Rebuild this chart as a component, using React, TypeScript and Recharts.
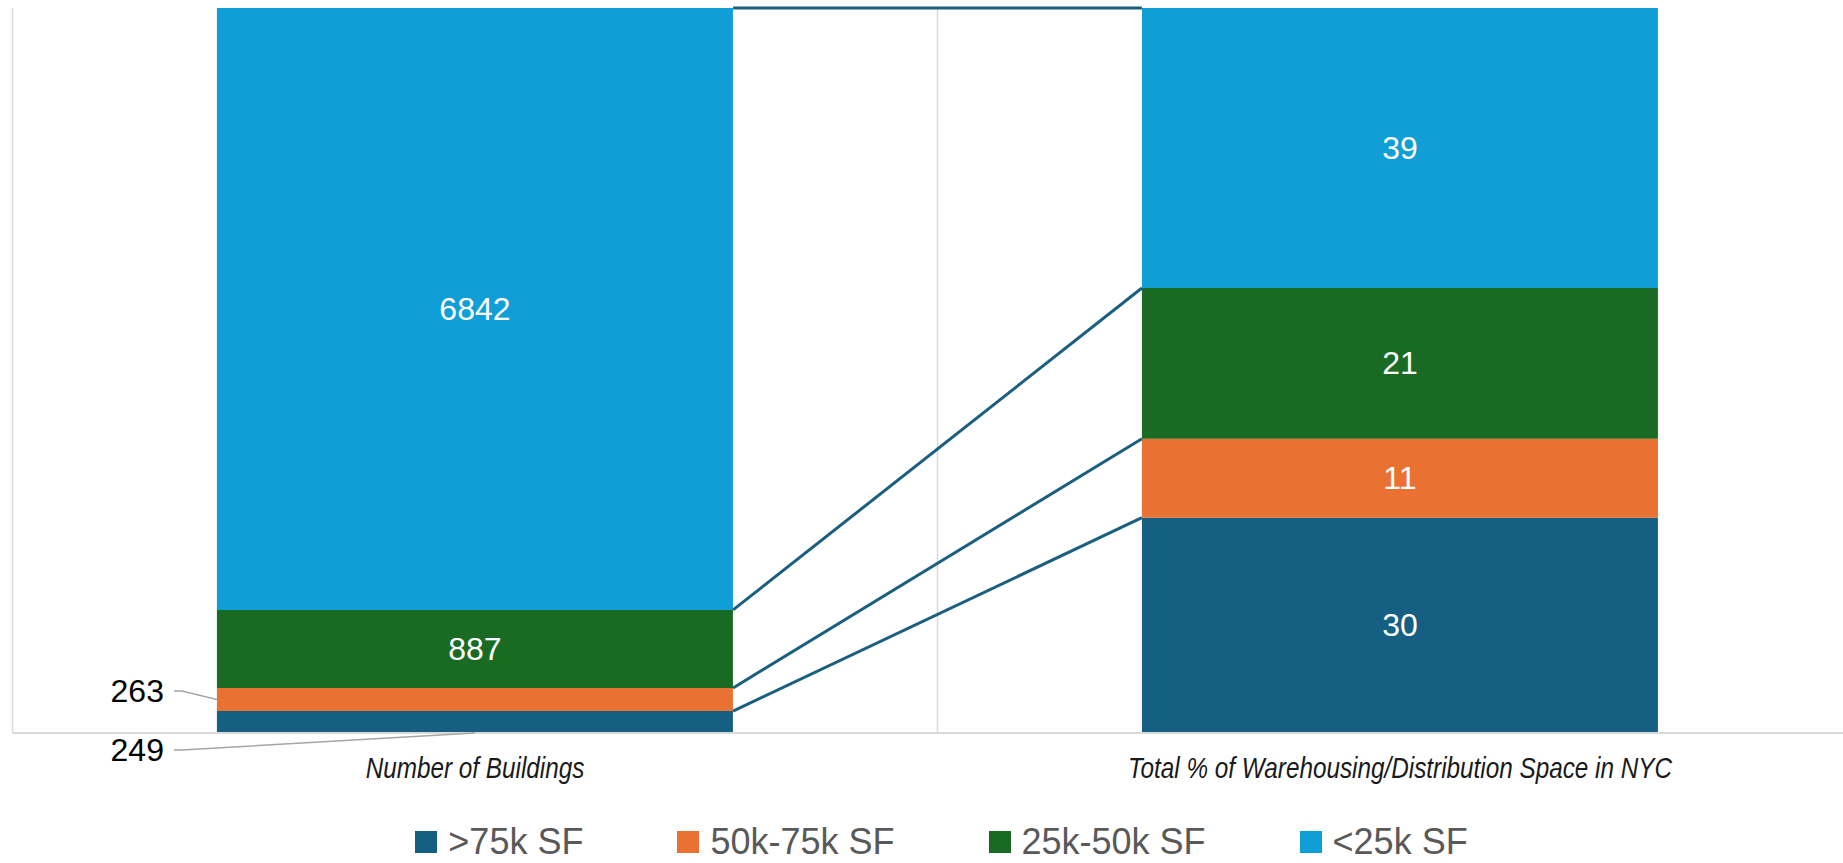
import React from 'react';
import {
  ComposedChart,
  Bar,
  Line,
  XAxis,
  YAxis,
  CartesianGrid,
  LabelList,
  Legend,
} from 'recharts';

// Category names along the bottom axis
const categories = [
  'Number of Buildings',
  'Total % of Warehousing/Distribution Space in NYC',
];

// Size classes, stacked bottom to top
const seriesNames = ['>75k SF', '50k-75k SF', '25k-50k SF', '<25k SF'];
const seriesColors = ['#156082', '#E97132', '#196B24', '#0F9ED5'];

// Values of each size class per category
const buildingCounts = [249, 263, 887, 6842];
const spaceShares = [30, 11, 21, 39];

// Fraction of each category band left empty on each side of its bar
const BAR_GAP = 0.221;

const CHART_W = 1875;
const CHART_H = 863;
const LABEL_FONT = "'Liberation Sans', Arial, Helvetica, sans-serif";
const AXIS_FONT = "'Liberation Sans', Arial, sans-serif";
// Horizontal squeeze giving the axis titles a narrow face
const AXIS_CONDENSE = 0.81;
const CONNECTOR_COLOR = '#1A5E80';

const seriesKeys = seriesNames.map((_, i) => `s${i}`);

const rows = [buildingCounts, spaceShares].map((vals, ci) => {
  const row: Record<string, string | number> = { name: categories[ci] };
  vals.forEach((v, si) => {
    row[seriesKeys[si]] = v;
  });
  return row;
});

// Top of every segment as a share of its bar (100% stacking)
const cumulativeShares = (vals: number[]) => {
  const total = vals.reduce((a, b) => a + b, 0);
  let run = 0;
  return vals.map((v) => {
    run += v;
    return run / total;
  });
};
const leftTops = cumulativeShares(buildingCounts);
const rightTops = cumulativeShares(spaceShares);

// Series lines joining each segment top from one bar edge to the next
const connectors = seriesKeys.map((_, si) => [
  { x: 1 - BAR_GAP, v: leftTops[si] },
  { x: 1 + BAR_GAP, v: rightTops[si] },
]);

const CategoryTick = (props: any) => {
  const { x, y, payload } = props;
  return (
    <g transform={`translate(${x} ${y + 45}) scale(${AXIS_CONDENSE} 1)`}>
      <text
        x={0}
        y={0}
        textAnchor="middle"
        fontFamily={AXIS_FONT}
        fontStyle="italic"
        fontSize={30}
        fill="#1a1a1a"
      >
        {payload.value}
      </text>
    </g>
  );
};

// Segment value label: white and centred, except the two thin
// building-count segments, whose labels sit to the left with leader lines.
const makeSegmentLabel = (seriesIndex: number) => (props: any) => {
  const { viewBox, value, index } = props;
  if (!viewBox) return null;
  const { x, y, width, height } = viewBox;
  const cx = x + width / 2;
  const cy = y + height / 2;
  if (index === 0 && seriesIndex === 1) {
    const ty = cy - 8.5;
    return (
      <g>
        <polyline
          points={`${x - 43},${ty} ${x - 35},${ty} ${x},${cy}`}
          fill="none"
          stroke="#A6A6A6"
          strokeWidth={1.5}
        />
        <text
          x={x - 53}
          y={ty}
          textAnchor="end"
          dominantBaseline="central"
          fontFamily={LABEL_FONT}
          fontSize={32}
          fill="#000"
        >
          {value}
        </text>
      </g>
    );
  }
  if (index === 0 && seriesIndex === 0) {
    const bottom = y + height;
    const ty = bottom + 17;
    return (
      <g>
        <polyline
          points={`${x - 43},${ty} ${x - 35},${ty} ${cx},${bottom}`}
          fill="none"
          stroke="#A6A6A6"
          strokeWidth={1.5}
        />
        <text
          x={x - 53}
          y={ty}
          textAnchor="end"
          dominantBaseline="central"
          fontFamily={LABEL_FONT}
          fontSize={32}
          fill="#000"
        >
          {value}
        </text>
      </g>
    );
  }
  return (
    <text
      x={cx}
      y={cy}
      textAnchor="middle"
      dominantBaseline="central"
      fontFamily={LABEL_FONT}
      fontSize={32}
      fill="#FFFFFF"
    >
      {value}
    </text>
  );
};

const renderLegend = () => (
  <div
    style={{
      display: 'flex',
      justifyContent: 'center',
      alignItems: 'center',
      paddingLeft: 8,
      fontFamily: LABEL_FONT,
      fontSize: 36,
      lineHeight: '36px',
      color: '#595959',
    }}
  >
    {seriesNames.map((name, i) => (
      <div
        key={name}
        style={{
          display: 'flex',
          alignItems: 'center',
          marginRight: i < seriesNames.length - 1 ? 94 : 0,
        }}
      >
        <span
          style={{
            display: 'inline-block',
            width: 22,
            height: 22,
            background: seriesColors[i],
            marginRight: 11,
          }}
        />
        <span>{name}</span>
      </div>
    ))}
  </div>
);

export default function App() {
  return (
    <div
      style={{
        position: 'absolute',
        left: 0,
        top: 0,
        width: 1843,
        height: 863,
        overflow: 'hidden',
        background: '#FFFFFF',
      }}
    >
      <ComposedChart
        width={CHART_W}
        height={CHART_H}
        data={rows}
        stackOffset="expand"
        barCategoryGap={`${BAR_GAP * 100}%`}
        margin={{ top: 8, right: 12.5, bottom: 80, left: 12.5 }}
      >
        <XAxis
          xAxisId="cat"
          dataKey="name"
          type="category"
          height={50}
          interval={0}
          tickLine={false}
          tickSize={0}
          tickMargin={0}
          axisLine={{ stroke: '#D9D9D9', strokeWidth: 2 }}
          tick={<CategoryTick />}
        />
        <XAxis
          xAxisId="pos"
          dataKey="x"
          type="number"
          domain={[0, 2]}
          ticks={[0, 1, 2]}
          orientation="top"
          height={0}
          hide
        />
        <YAxis type="number" domain={[0, 1]} hide width={0} />
        <CartesianGrid
          xAxisId="pos"
          horizontal={false}
          stroke="#D9D9D9"
          strokeWidth={1.5}
        />
        {seriesKeys.map((key, si) => (
          <Bar
            key={key}
            xAxisId="cat"
            dataKey={key}
            name={seriesNames[si]}
            stackId="stack"
            fill={seriesColors[si]}
            isAnimationActive={false}
          >
            <LabelList dataKey={key} content={makeSegmentLabel(si)} />
          </Bar>
        ))}
        {connectors.map((pts, si) => (
          <Line
            key={`connector-${si}`}
            xAxisId="pos"
            data={pts}
            dataKey="v"
            type="linear"
            stroke={CONNECTOR_COLOR}
            strokeWidth={3}
            dot={false}
            activeDot={false}
            legendType="none"
            isAnimationActive={false}
          />
        ))}
        <Legend
          layout="horizontal"
          verticalAlign="middle"
          align="center"
          content={renderLegend}
          wrapperStyle={{ top: 824, left: 0, width: CHART_W }}
        />
      </ComposedChart>
    </div>
  );
}
